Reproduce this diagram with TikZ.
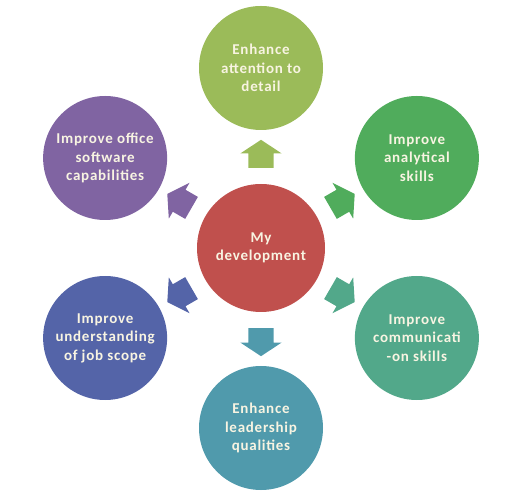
\documentclass[tikz,border=0pt]{standalone}
\usepackage{fontspec}
\setmainfont{Carlito}[LetterSpace=5]
\usepackage{xcolor}
\usetikzlibrary{shapes.arrows, calc}
\definecolor{C0}{RGB}{192, 80, 77}
\definecolor{C1}{RGB}{155,187, 89}
\definecolor{C2}{RGB}{ 80,172, 92}
\definecolor{C3}{RGB}{ 82,168,138}
\definecolor{C4}{RGB}{ 80,154,172}
\definecolor{C5}{RGB}{ 84,100,168}
\definecolor{C6}{RGB}{128,100,162}
\definecolor{Txt}{RGB}{248,244,226}

\tikzset{
    bubble/.style={circle, fill=#1, minimum size=124pt, inner sep=0pt,
        text=Txt, align=center, font=\bfseries\fontsize{15}{18.5}\selectfont},
    blockarrow/.style={single arrow, fill=#1, minimum height=28pt,
        inner xsep=0pt, inner ysep=12.5pt, single arrow head extend=8pt,
        single arrow tip angle=113}
}

\begin{document}
\begin{tikzpicture}[x=1pt, y=1pt]

    \useasboundingbox (-261,-254) rectangle (257,248);

    %% Origin
    \coordinate (O) at (0,0);

    %% --- Centre ---
    \node[bubble=C0, minimum size=128pt] (dev) at (O) {My\\development};

    %% --- Goals ---
    \node[bubble=C1] (detail)   at (90:180)  {Enhance\\attention to\\detail};
    \node[bubble=C2] (analytic) at (30:180)  {Improve\\analytical\\skills};
    \node[bubble=C3] (commun)   at (-30:180) {Improve\\communicati\\-on skills};
    \node[bubble=C4] (leader)   at (-90:180) {Enhance\\leadership\\qualities};
    \node[bubble=C5] (scope)    at (210:180) {Improve\\understanding\\of job scope};
    \node[bubble=C6] (office)   at (150:180) {Improve office\\software\\capabilities};

    %% --- Block arrows ---
    \node[blockarrow=C1, rotate=90]  (a1) at ($(dev)!0.5!(detail)$)   {};
    \node[blockarrow=C2, rotate=30]  (a2) at ($(dev)!0.5!(analytic)$) {};
    \node[blockarrow=C3, rotate=-30] (a3) at ($(dev)!0.5!(commun)$)   {};
    \node[blockarrow=C4, rotate=-90] (a4) at ($(dev)!0.5!(leader)$)   {};
    \node[blockarrow=C5, rotate=210] (a5) at ($(dev)!0.5!(scope)$)    {};
    \node[blockarrow=C6, rotate=150] (a6) at ($(dev)!0.5!(office)$)   {};

\end{tikzpicture}
\end{document}
